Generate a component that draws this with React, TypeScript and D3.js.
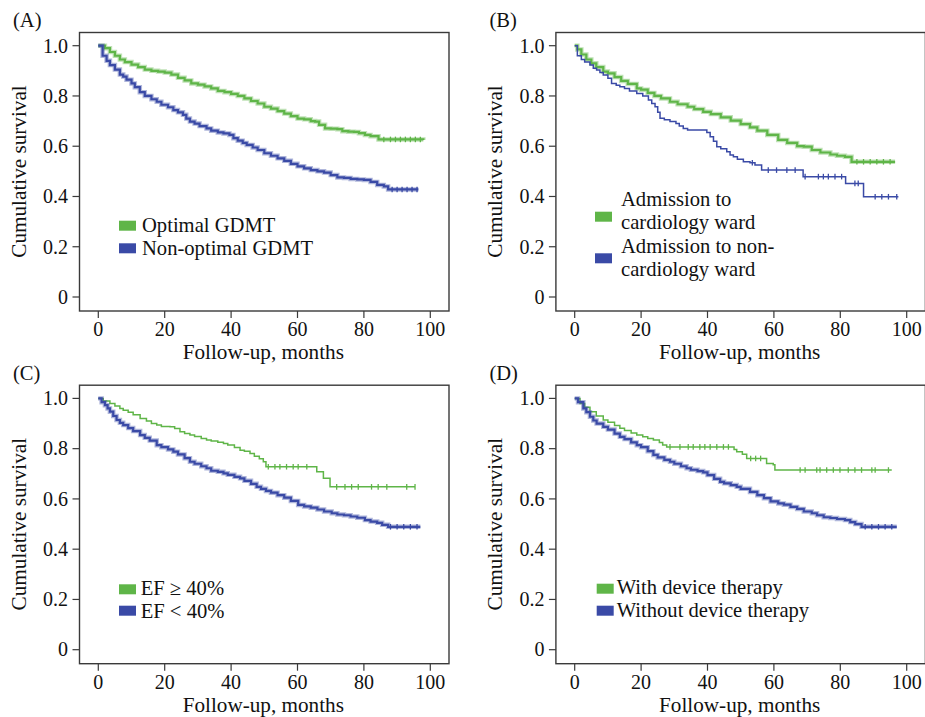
import React from 'react';
import * as d3 from 'd3';

// Kaplan-Meier curves, 4 panels. [month, survival] step points.
type Pt = [number, number];

const xTicks = [0, 20, 40, 60, 80, 100];
const yTicks = [0, 0.2, 0.4, 0.6, 0.8, 1.0];
const yTickLabels = ['0', '0.2', '0.4', '0.6', '0.8', '1.0'];

// (A) GDMT
const optimalGdmt: Pt[] = [
  [0, 1.0], [2, 0.99], [3.5, 0.975], [5, 0.96], [6.5, 0.945], [8, 0.935], [10, 0.925], [12, 0.915],
  [14, 0.905], [16, 0.9], [18, 0.897], [20, 0.893], [22, 0.885], [24, 0.872], [26, 0.862], [28, 0.85],
  [30, 0.845], [32, 0.838], [34, 0.83], [36, 0.82], [38, 0.815], [40, 0.808], [42, 0.8], [44, 0.79],
  [46, 0.78], [48, 0.77], [50, 0.757], [52, 0.75], [54, 0.74], [56, 0.73], [58, 0.72], [60, 0.71],
  [62, 0.707], [64, 0.7], [65.3, 0.698], [66.5, 0.685], [68.3, 0.671], [70, 0.67], [72, 0.668],
  [73.5, 0.66], [75.3, 0.658], [77, 0.657], [78.5, 0.652], [80.3, 0.645], [82, 0.64], [84.4, 0.627],
  [97.9, 0.625],
];
const nonOptimalGdmt: Pt[] = [
  [0, 1.0], [1.3, 0.96], [2.5, 0.94], [3.5, 0.923], [5, 0.905], [6.5, 0.885], [7.5, 0.877], [8.5, 0.865],
  [10, 0.85], [11, 0.835], [12.5, 0.815], [14, 0.8], [16, 0.787], [17.6, 0.777], [19, 0.765], [21, 0.755],
  [22.6, 0.744], [24, 0.735], [25.5, 0.725], [26.5, 0.71], [27.6, 0.698], [29, 0.69], [30.5, 0.68],
  [32.6, 0.671], [34, 0.662], [36, 0.655], [37.7, 0.651], [39.5, 0.645], [40.7, 0.632], [42, 0.622],
  [43.5, 0.613], [44.7, 0.605], [46.5, 0.595], [48, 0.585], [50, 0.572], [52, 0.562], [54, 0.552],
  [56, 0.542], [58, 0.53], [60, 0.52], [62, 0.512], [64, 0.505], [66, 0.5], [68, 0.495], [70, 0.485],
  [72, 0.476], [74, 0.474], [76, 0.47], [78, 0.468], [80, 0.466], [82, 0.458], [84, 0.446], [86, 0.44],
  [87.3, 0.428], [96.4, 0.428],
];
const optimalGdmtCensor = [86, 88, 89.5, 91, 92.5, 94, 95.5, 97];
const nonOptimalGdmtCensor = [88.5, 90, 91.5, 93, 94.5, 96];

// (B) ward of admission
const cardioWard: Pt[] = [
  [0, 1.0], [0.8, 0.985], [2, 0.965], [3.5, 0.945], [5, 0.93], [6.5, 0.915], [8.6, 0.897], [10, 0.89],
  [12, 0.875], [14, 0.86], [16, 0.848], [18.7, 0.83], [20, 0.825], [22, 0.812], [24, 0.8], [26, 0.79],
  [28.7, 0.777], [31, 0.767], [34, 0.757], [36, 0.748], [38.7, 0.737], [41, 0.728], [44, 0.715],
  [47, 0.702], [50, 0.688], [52.8, 0.675], [55, 0.662], [58, 0.645], [61.3, 0.625], [64, 0.613],
  [67, 0.6], [69, 0.598], [71.4, 0.585], [74, 0.575], [77, 0.567], [79, 0.562], [81.4, 0.558],
  [83.4, 0.538], [96.5, 0.538],
];
const nonCardioWard: Pt[] = [
  [0, 1.0], [0.8, 0.96], [2, 0.945], [3, 0.935], [4.6, 0.923], [5.6, 0.91], [6.6, 0.903], [7.6, 0.893],
  [8.6, 0.883], [10, 0.87], [11.1, 0.85], [12.5, 0.843], [13.6, 0.837], [15, 0.83], [16.5, 0.82],
  [18.7, 0.81], [20.5, 0.8], [22.2, 0.784], [23.2, 0.77], [24.2, 0.757], [25, 0.735], [25.7, 0.711],
  [27, 0.705], [28.7, 0.698], [30.5, 0.69], [31.5, 0.68], [32.7, 0.671], [34, 0.665], [38.7, 0.665],
  [39.8, 0.655], [40.8, 0.638], [41.8, 0.62], [42.8, 0.598], [44, 0.59], [45.8, 0.578], [46.8, 0.565],
  [47.8, 0.558], [49, 0.548], [50.8, 0.538], [52.8, 0.534], [54.3, 0.525], [56.3, 0.505], [68.8, 0.479],
  [81.6, 0.452], [87, 0.399], [97.5, 0.399],
];
const cardioWardCensor = [85, 87, 89, 91, 93, 95];
const nonCardioWardCensor = [
  53.5, 58.3, 60.8, 63.9, 66.4, 69.4, 73.4, 74.9, 76.4, 78.4, 80.4, 84.4, 85.4, 90.5, 92.5, 94.5, 97,
];

// (C) ejection fraction
const efHigh: Pt[] = [
  [0, 1.0], [1.5, 0.99], [3.5, 0.98], [5, 0.97], [6.5, 0.96], [7.5, 0.953], [9, 0.945], [10.5, 0.935],
  [12.6, 0.92], [14.5, 0.91], [16, 0.9], [17.6, 0.894], [19, 0.888], [21.6, 0.887], [23, 0.88],
  [24.6, 0.867], [26, 0.86], [27.6, 0.854], [29, 0.848], [31, 0.84], [32.6, 0.834], [34, 0.83],
  [36, 0.826], [37.7, 0.821], [39, 0.815], [41, 0.805], [42.7, 0.794], [44, 0.79], [45.7, 0.781],
  [47, 0.77], [48.5, 0.76], [49.7, 0.748], [50.5, 0.728], [64.3, 0.728], [65.8, 0.708], [67.8, 0.682],
  [69.8, 0.648], [95.4, 0.648],
];
const efLow: Pt[] = [
  [0, 1.0], [1, 0.985], [2, 0.973], [2.8, 0.96], [3.5, 0.947], [4.5, 0.93], [5.5, 0.914], [6.5, 0.903],
  [7.5, 0.894], [9, 0.882], [10.5, 0.87], [12.6, 0.854], [14, 0.843], [15.5, 0.832], [17.6, 0.814],
  [19, 0.806], [21, 0.797], [22.6, 0.788], [24, 0.777], [26, 0.762], [27.6, 0.748], [29, 0.74],
  [31, 0.73], [32.6, 0.722], [34, 0.712], [36, 0.708], [37.7, 0.702], [39, 0.696], [41, 0.688],
  [42.7, 0.682], [44, 0.672], [46, 0.66], [47.7, 0.648], [49, 0.64], [50.5, 0.632], [52, 0.625],
  [54, 0.615], [56, 0.605], [58, 0.592], [60.2, 0.576], [62, 0.57], [64, 0.565], [66, 0.558],
  [68, 0.55], [70.3, 0.543], [72, 0.538], [74, 0.535], [76, 0.53], [78, 0.525], [80.3, 0.516],
  [82, 0.51], [84, 0.505], [85.5, 0.497], [87.3, 0.489], [97, 0.489],
];
const efHighCensor = [
  51.2, 53.2, 54.7, 56.7, 58.7, 60.2, 62.8, 71.8, 74.3, 76.3, 78.3, 82.3, 84.3, 86.9, 92.9, 95.4,
];
const efLowCensor = [88, 90, 92, 94, 96];

// (D) device therapy
const withDevice: Pt[] = [
  [0, 1.0], [1.6, 0.98], [3, 0.965], [4.6, 0.947], [6.5, 0.93], [8.6, 0.914], [10, 0.905], [12, 0.892],
  [13.6, 0.881], [15, 0.872], [17, 0.862], [18.7, 0.854], [20.5, 0.847], [22, 0.84], [23.7, 0.834],
  [25.5, 0.825], [26.5, 0.815], [27.7, 0.807], [46.8, 0.807], [48, 0.797], [48.8, 0.788],
  [50.5, 0.778], [51.8, 0.761], [57.3, 0.761], [57.8, 0.741], [59.8, 0.736], [60.3, 0.715],
  [95.5, 0.715],
];
const withoutDevice: Pt[] = [
  [0, 1.0], [1, 0.985], [2.6, 0.96], [3.5, 0.945], [4.6, 0.927], [5.6, 0.912], [6.6, 0.9], [8.6, 0.887],
  [10, 0.876], [12, 0.86], [13.6, 0.847], [15, 0.838], [17, 0.825], [18.7, 0.814], [20, 0.806],
  [22, 0.79], [23.7, 0.775], [25, 0.765], [27, 0.755], [28.7, 0.748], [30, 0.74], [32, 0.73],
  [33.7, 0.722], [35, 0.716], [37, 0.711], [38.7, 0.706], [40, 0.695], [42, 0.68], [43.8, 0.668],
  [45, 0.662], [47, 0.655], [48.8, 0.648], [50, 0.64], [52.8, 0.628], [55, 0.615], [57, 0.603],
  [59, 0.59], [61.3, 0.582], [63, 0.577], [65, 0.568], [67, 0.56], [69, 0.55], [71.4, 0.543],
  [73, 0.535], [75, 0.527], [77, 0.524], [79, 0.52], [81.4, 0.516], [83, 0.508], [84.5, 0.5],
  [86.4, 0.489], [97, 0.489],
];
const withDeviceCensor = [
  28.7, 31.7, 34.2, 35.7, 37.7, 39.2, 40.8, 42.8, 44.8, 46.3, 53, 54.5, 56, 67.9, 69.4, 72.9, 73.9,
  75.9, 77.9, 79.9, 82.4, 84.4, 86.4, 89.5, 90.5, 94.5,
];
const withoutDeviceCensor = [87.5, 89.5, 91.5, 93.5, 95.5];

const GREEN = '#5fb548';
const BLUE = '#3a4aa6';
const FONT = "'Liberation Serif', 'Times New Roman', Times, serif";

type Series = { data: Pt[]; censor: number[]; color: string; dense: boolean };
type Legend = { sqX: number; textX: number; rows: { sqY: number; color: string; lines: [string, number][] }[] };
type PanelDef = { label: string; ox: number; oy: number; series: Series[]; legend: Legend };

const panels: PanelDef[] = [
  {
    label: '(A)', ox: 0, oy: 0,
    series: [
      { data: optimalGdmt, censor: optimalGdmtCensor, color: GREEN, dense: true },
      { data: nonOptimalGdmt, censor: nonOptimalGdmtCensor, color: BLUE, dense: true },
    ],
    legend: {
      sqX: 119, textX: 142,
      rows: [
        { sqY: 220.7, color: GREEN, lines: [['Optimal GDMT', 231.8]] },
        { sqY: 243.3, color: BLUE, lines: [['Non-optimal GDMT', 254.6]] },
      ],
    },
  },
  {
    label: '(B)', ox: 476.4, oy: 0,
    series: [
      { data: cardioWard, censor: cardioWardCensor, color: GREEN, dense: true },
      { data: nonCardioWard, censor: nonCardioWardCensor, color: BLUE, dense: false },
    ],
    legend: {
      sqX: 118.6, textX: 144.6,
      rows: [
        { sqY: 211.7, color: GREEN, lines: [['Admission to', 206], ['cardiology ward', 228.8]] },
        { sqY: 253.3, color: BLUE, lines: [['Admission to non-', 253.2], ['cardiology ward', 276]] },
      ],
    },
  },
  {
    label: '(C)', ox: 0, oy: 352.7,
    series: [
      { data: efHigh, censor: efHighCensor, color: GREEN, dense: false },
      { data: efLow, censor: efLowCensor, color: BLUE, dense: true },
    ],
    legend: {
      sqX: 119, textX: 140.7,
      rows: [
        { sqY: 231.6, color: GREEN, lines: [['EF \u2265 40%', 242.2]] },
        { sqY: 253, color: BLUE, lines: [['EF < 40%', 265]] },
      ],
    },
  },
  {
    label: '(D)', ox: 476.4, oy: 352.7,
    series: [
      { data: withDevice, censor: withDeviceCensor, color: GREEN, dense: false },
      { data: withoutDevice, censor: withoutDeviceCensor, color: BLUE, dense: true },
    ],
    legend: {
      sqX: 120.3, textX: 140.3,
      rows: [
        { sqY: 231, color: GREEN, lines: [['With device therapy', 241.6]] },
        { sqY: 253, color: BLUE, lines: [['Without device therapy', 264.4]] },
      ],
    },
  },
];

const x = d3.scaleLinear().domain([0, 100]).range([98.3, 430.3]);
const y = d3.scaleLinear().domain([0, 1]).range([297, 45.7]);
const line = d3.line<Pt>().x(d => x(d[0])).y(d => y(d[1])).curve(d3.curveStepAfter);
const bisect = d3.bisector((d: Pt) => d[0]).right;

const survAt = (data: Pt[], t: number) => data[Math.max(0, bisect(data, t) - 1)][1];

const frame = { left: 79.5, top: 32.5, right: 449, bottom: 311 };

function Panel({ p }: { p: PanelDef }) {
  return (
    <g transform={`translate(${p.ox},${p.oy})`} style={{ fontFamily: FONT }} fill="#111">
      <text x={13} y={27} fontSize={20.5}>{p.label}</text>
      {p.series.map((s, i) => (
        <g key={i}>
          {s.dense && (
            <path d={line(s.data) || ''} fill="none" stroke={s.color} strokeOpacity={0.4} strokeWidth={4.5} />
          )}
          <path d={line(s.data) || ''} fill="none" stroke={s.color} strokeWidth={s.dense ? 2.2 : 1.5} />
          {s.censor.map((t, j) => {
            const cy = y(survAt(s.data, t));
            return <line key={j} x1={x(t)} x2={x(t)} y1={cy - 2.8} y2={cy + 2.8} stroke={s.color} strokeWidth={1.3} />;
          })}
        </g>
      ))}
      <rect x={frame.left} y={frame.top} width={frame.right - frame.left} height={frame.bottom - frame.top}
        fill="none" stroke="#3a3a3a" strokeWidth={1.4} />
      {yTicks.map((t, i) => (
        <g key={t}>
          <line x1={frame.left - 7} x2={frame.left} y1={y(t)} y2={y(t)} stroke="#3a3a3a" strokeWidth={1.2} />
          <text x={frame.left - 11.5} y={y(t) + 6.8} textAnchor="end" fontSize={20}>{yTickLabels[i]}</text>
        </g>
      ))}
      {xTicks.map(t => (
        <g key={t}>
          <line x1={x(t)} x2={x(t)} y1={frame.bottom} y2={frame.bottom + 7} stroke="#3a3a3a" strokeWidth={1.2} />
          <text x={x(t)} y={336} textAnchor="middle" fontSize={20}>{t}</text>
        </g>
      ))}
      <text x={(x(0) + x(100)) / 2 - 1} y={359} textAnchor="middle" fontSize={21.2}>Follow-up, months</text>
      <text transform={`translate(26,171.5) rotate(-90)`} textAnchor="middle" fontSize={21.2}>Cumulative survival</text>
      {p.legend.rows.map((r, i) => (
        <g key={i}>
          <rect x={p.legend.sqX} y={r.sqY} width={17} height={10} fill={r.color} />
          {r.lines.map(([txt, by], j) => (
            <text key={j} x={p.legend.textX} y={by} fontSize={20.6}>{txt}</text>
          ))}
        </g>
      ))}
    </g>
  );
}

export default function App() {
  return (
    <svg width={925} height={717} style={{ position: 'absolute', left: 0, top: 0, background: '#fff' }}>
      <rect width={925} height={717} fill="#fff" />
      {panels.map(p => <Panel key={p.label} p={p} />)}
    </svg>
  );
}
